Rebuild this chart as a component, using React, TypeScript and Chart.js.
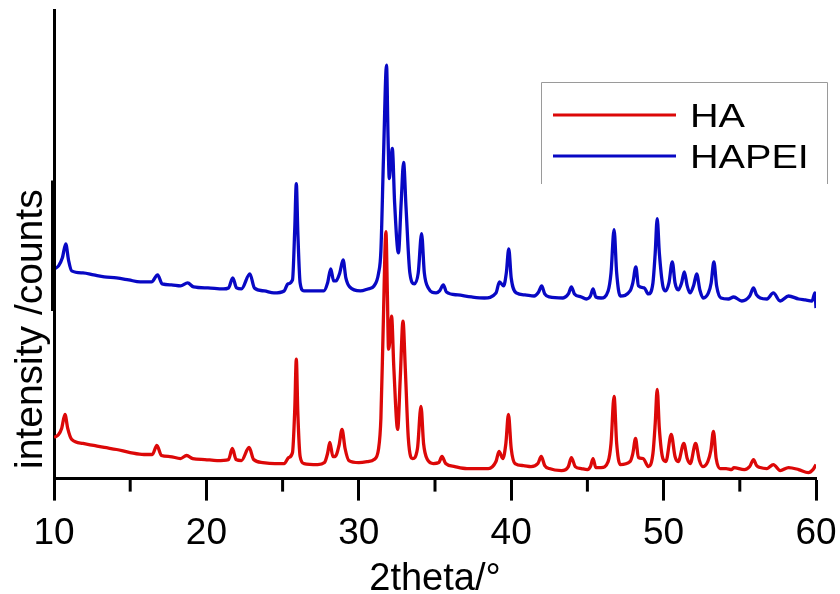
import React, { useEffect, useRef } from "react";
import { Chart, registerables } from "chart.js";

Chart.register(...registerables);

// ---- data (2theta in degrees, intensity in arbitrary counts) ----
const xTickValues = [10, 20, 30, 40, 50, 60];
const minorTickValues = [15, 25, 35, 45, 55];
const seriesLabels = ["HA", "HAPEI"];
const seriesColors = ["#dc0808", "#0808c4"];
const xTitle = "2theta/°";
const yTitle = "intensity /counts";

const haTheta = [
  10, 10.3, 10.5, 10.72, 10.9, 11.16, 11.9, 12.6, 13.3, 14.1, 15.0, 15.9, 16.45, 16.75, 17.05, 17.6, 18.3, 18.7,
  19.1, 19.9, 20.7, 21.45, 21.7, 21.95, 22.3, 22.8, 23.1, 23.7, 24.5, 25.1, 25.4, 25.65, 25.8, 25.9, 26.0, 26.15,
  26.4, 27.3, 27.75, 27.95, 28.1, 28.3, 28.45, 28.7, 28.9, 29.1, 29.35, 30.0, 30.6, 31.0, 31.3, 31.45, 31.6, 31.78,
  31.88, 31.95, 32.05, 32.15, 32.3, 32.55, 32.72, 32.9, 33.05, 33.25, 33.53, 33.85, 34.08, 34.25, 34.5, 34.9, 35.25,
  35.46, 35.7, 36.3, 37.1, 37.8, 38.5, 39.0, 39.2, 39.45, 39.65, 39.82, 40.0, 40.25, 40.8, 41.3, 41.75, 41.97, 42.2,
  42.5, 43.3, 43.75, 43.95, 44.2, 44.6, 45.0, 45.2, 45.37, 45.55, 45.9, 46.36, 46.55, 46.75, 46.92, 47.15, 47.8,
  47.98, 48.16, 48.35, 48.66, 49.0, 49.3, 49.45, 49.58, 49.72, 49.95, 50.15, 50.5, 50.75, 50.96, 51.33, 51.55, 51.75,
  52.1, 52.35, 52.57, 52.9, 53.1, 53.27, 53.45, 53.7, 54.1, 54.47, 54.6, 55.3, 55.65, 55.9, 56.1, 56.34, 56.78, 57.2,
  57.65, 58.2, 58.86, 59.5, 59.8, 60.0,
];
const haIntensity = [
  41, 44, 50, 64, 50, 39, 35, 33, 31, 29, 26, 24, 24, 33, 23, 22, 20, 23,
  20, 19, 18, 19, 30, 19, 18, 31, 19, 16, 15, 15, 21, 26, 70, 119, 65, 22,
  15, 14, 16, 25, 36, 22, 22, 33, 49, 30, 18, 16, 17, 19, 30, 60, 150, 246,
  180, 129, 140, 162, 110, 49, 100, 157, 110, 40, 20, 30, 72, 35, 19, 15, 16,
  22, 15, 12, 10, 10, 10, 17, 27, 20, 35, 64, 30, 15, 13, 12, 15, 22, 13,
  10, 8, 12, 21, 12, 10, 9, 12, 20, 11, 11, 17, 35, 82, 35, 14, 17,
  25, 40, 21, 20, 12, 25, 55, 89, 50, 20, 17, 44, 22, 17, 35, 20, 15,
  35, 18, 12, 17, 28, 47, 20, 10, 10, 9, 11, 9, 12, 19, 13, 11, 10, 14,
  8, 11, 9, 6, 9, 14,
];

const hapeiTheta = [
  10, 10.3, 10.55, 10.77, 10.95, 11.16, 11.9, 12.6, 13.3, 14.1, 14.9, 15.66, 16.4, 16.8, 17.1, 17.7, 18.3, 18.77,
  19.16, 20.1, 21.1, 21.45, 21.73, 21.98, 22.3, 22.85, 23.15, 23.8, 24.43, 25.1, 25.35, 25.65, 25.8, 25.9, 26.0,
  26.15, 26.4, 27.7, 27.95, 28.16, 28.35, 28.5, 28.75, 28.97, 29.15, 29.4, 30.1, 30.6, 31.0, 31.3, 31.45, 31.62,
  31.82, 31.92, 32.0, 32.1, 32.2, 32.35, 32.6, 32.78, 32.94, 33.1, 33.35, 33.64, 33.9, 34.12, 34.3, 34.56, 35.07,
  35.3, 35.55, 35.75, 36.5, 37.4, 38.24, 39.0, 39.23, 39.5, 39.68, 39.84, 40.0, 40.33, 40.9, 41.5, 41.8, 42.0, 42.2,
  42.5, 43.4, 43.75, 43.95, 44.15, 44.6, 44.93, 45.2, 45.37, 45.55, 45.9, 46.36, 46.55, 46.75, 46.92, 47.15, 47.8,
  47.98, 48.18, 48.35, 48.73, 49.0, 49.3, 49.45, 49.58, 49.72, 49.95, 50.13, 50.35, 50.57, 50.75, 50.96, 51.18,
  51.36, 51.55, 51.73, 51.98, 52.17, 52.38, 52.6, 52.94, 53.12, 53.3, 53.48, 53.77, 54.25, 54.6, 55.13, 55.65, 55.9,
  56.1, 56.34, 56.78, 57.2, 57.65, 58.2, 58.86, 59.3, 59.74, 59.93, 60.0,
];
const hapeiIntensity = [
  209, 212, 220, 234, 218, 207, 205, 203, 201, 200, 198, 196, 196, 203, 194, 193, 192, 195,
  191, 190, 189, 190, 200, 190, 189, 204, 190, 187, 185, 187, 194, 198, 250, 294, 245,
  195, 187, 187, 195, 209, 197, 197, 205, 218, 200, 191, 187, 189, 192, 205, 227, 320,
  412, 340, 299, 315, 329, 275, 225, 275, 315, 270, 205, 194, 205, 244, 205, 190, 185,
  187, 193, 186, 183, 181, 180, 185, 196, 192, 205, 229, 200, 185, 183, 182, 186, 192, 184,
  181, 180, 184, 191, 184, 181, 179, 182, 189, 181, 180, 187, 205, 248, 205, 182, 187,
  195, 211, 192, 190, 184, 195, 225, 259, 225, 192, 187, 195, 216, 195, 188, 195,
  206, 192, 185, 193, 204, 188, 180, 185, 195, 216, 192, 180, 179, 181, 177, 182, 190,
  183, 180, 179, 185, 177, 182, 179, 178, 177, 185, 170,
];

const FONT = "'Liberation Sans', Arial, Helvetica, sans-serif";

const decorPlugin = {
  id: "decor",
  afterDraw(chart: any) {
    const { ctx, chartArea, scales } = chart;
    const xs = scales.x;
    const ys = scales.y;
    ctx.save();
    // minor ticks
    ctx.strokeStyle = "#000";
    ctx.lineWidth = 3;
    minorTickValues.forEach((t) => {
      const px = xs.getPixelForValue(t);
      ctx.beginPath();
      ctx.moveTo(px, chartArea.bottom);
      ctx.lineTo(px, chartArea.bottom + 13);
      ctx.stroke();
    });
    // thicker segment of the left axis
    ctx.lineWidth = 5;
    ctx.beginPath();
    ctx.moveTo(chartArea.left - 0.5, ys.getPixelForValue(297));
    ctx.lineTo(chartArea.left - 0.5, ys.getPixelForValue(167));
    ctx.stroke();
    // y axis title
    ctx.save();
    ctx.translate(42, 469);
    ctx.rotate(-Math.PI / 2);
    ctx.fillStyle = "#000";
    ctx.font = `39px ${FONT}`;
    ctx.textAlign = "left";
    ctx.textBaseline = "alphabetic";
    ctx.fillText(yTitle, 0, 0);
    ctx.restore();
    // legend box (open bottom)
    const lx = 541, ly = 82, rx = 827, by = 184;
    ctx.strokeStyle = "#9a9a9a";
    ctx.lineWidth = 1;
    ctx.beginPath();
    ctx.moveTo(lx + 0.5, by);
    ctx.lineTo(lx + 0.5, ly + 0.5);
    ctx.lineTo(rx + 0.5, ly + 0.5);
    ctx.lineTo(rx + 0.5, by);
    ctx.stroke();
    const rows = [115, 156];
    chart.data.datasets.forEach((ds: any, i: number) => {
      const yy = rows[i];
      ctx.strokeStyle = ds.borderColor;
      ctx.lineWidth = 3;
      ctx.beginPath();
      ctx.moveTo(553, yy);
      ctx.lineTo(676, yy);
      ctx.stroke();
      ctx.save();
      ctx.translate(690, yy + 12);
      ctx.scale(1.2, 1);
      ctx.fillStyle = "#000";
      ctx.font = `33px ${FONT}`;
      ctx.textAlign = "left";
      ctx.textBaseline = "alphabetic";
      ctx.fillText(ds.label, 0, 0);
      ctx.restore();
    });
    ctx.restore();
  },
};

export default function App() {
  const canvasRef = useRef<HTMLCanvasElement | null>(null);

  useEffect(() => {
    const canvas = canvasRef.current;
    if (!canvas) return;
    const chart = new Chart(canvas, {
      type: "line",
      data: {
        datasets: [
          {
            label: seriesLabels[0],
            data: haTheta.map((x, i) => ({ x, y: haIntensity[i] })),
            borderColor: seriesColors[0],
            borderWidth: 3.3,
            pointRadius: 0,
            cubicInterpolationMode: "monotone",
            fill: false,
          },
          {
            label: seriesLabels[1],
            data: hapeiTheta.map((x, i) => ({ x, y: hapeiIntensity[i] })),
            borderColor: seriesColors[1],
            borderWidth: 3.3,
            pointRadius: 0,
            cubicInterpolationMode: "monotone",
            fill: false,
          },
        ],
      },
      options: {
        responsive: false,
        animation: false,
        devicePixelRatio: 1,
        layout: { padding: { left: 54, top: 10, right: 0, bottom: 0 } },
        plugins: {
          legend: { display: false },
          tooltip: { enabled: false },
        },
        scales: {
          x: {
            type: "linear",
            min: 10,
            max: 60,
            afterBuildTicks: (scale: any) => {
              scale.ticks = xTickValues.map((v) => ({ value: v }));
            },
            afterFit: (scale: any) => {
              scale.paddingRight = 24;
              scale.paddingLeft = 0;
            },
            ticks: {
              color: "#000",
              font: { family: FONT, size: 37 },
              padding: 11,
              maxRotation: 0,
            },
            grid: {
              display: true,
              drawOnChartArea: false,
              drawTicks: true,
              tickLength: 22,
              tickWidth: 3,
              tickColor: "#000",
            },
            border: { display: true, color: "#000", width: 3 },
            title: {
              display: true,
              text: xTitle,
              color: "#000",
              font: { family: FONT, size: 38, lineHeight: 1 },
              padding: { top: -6, bottom: -5 },
            },
          },
          y: {
            type: "linear",
            min: 0,
            max: 467,
            ticks: { display: false },
            grid: { display: false, drawTicks: false },
            border: { display: true, color: "#000", width: 3 },
          },
        },
      },
      plugins: [decorPlugin],
    });
    return () => chart.destroy();
  }, []);

  return (
    <div style={{ position: "fixed", left: 0, top: 0, width: 840, height: 594, background: "#fff" }}>
      <canvas ref={canvasRef} width={840} height={594} style={{ display: "block" }} />
    </div>
  );
}
